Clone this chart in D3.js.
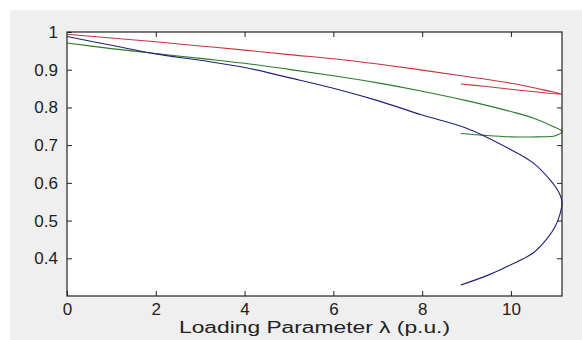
<!DOCTYPE html>
<html>
<head>
<meta charset="utf-8">
<script src="https://cdn.jsdelivr.net/npm/d3@7/dist/d3.min.js"></script>
<style>
  body { margin: 0; background: #fff; }
  svg { display: block; }
  text { font-family: "Liberation Sans", Arial, sans-serif; }
</style>
</head>
<body>
<svg width="582" height="340"></svg>
<script>
// traced P-V curves: [lambda, V]
var redCurve = [[0, 0.994], [1, 0.984], [2, 0.974], [3, 0.963], [4, 0.952], [5, 0.940], [6, 0.929],
  [7, 0.915], [8, 0.899], [9, 0.882], [10, 0.864], [10.6, 0.850], [11.15, 0.835],
  [10.6, 0.841], [10, 0.848], [9.4, 0.856], [8.87, 0.862]];
var greenCurve = [[0, 0.971], [1, 0.956], [2, 0.943], [3, 0.930], [4, 0.917], [5, 0.901], [6, 0.884],
  [7, 0.865], [8, 0.843], [9, 0.818], [10, 0.789], [10.5, 0.772], [10.9, 0.752], [11.15, 0.736],
  [11, 0.725], [10.6, 0.722], [10, 0.722], [9.4, 0.726], [8.87, 0.731]];
var blueCurve = [[0, 0.988], [1, 0.965], [2, 0.942], [3, 0.925], [4, 0.906], [5, 0.879], [6, 0.851],
  [7, 0.818], [8, 0.780], [9, 0.745], [10, 0.688], [10.5, 0.653], [10.9, 0.605], [11.1, 0.570],
  [11.15, 0.548], [11.1, 0.515], [11.0, 0.485], [10.8, 0.450], [10.5, 0.414], [10, 0.383],
  [9.5, 0.356], [8.87, 0.329]];
var xTicks = [0, 2, 4, 6, 8, 10];
var yTicks = [0.4, 0.5, 0.6, 0.7, 0.8, 0.9, 1];

var svg = d3.select("svg");
var plotL = 67, plotR = 562, plotT = 32, plotB = 296;

svg.append("rect").attr("x", 10).attr("y", 10).attr("width", 572).attr("height", 330)
    .attr("fill", "#efefef");

var x = d3.scaleLinear().domain([0, 11.15]).range([plotL, plotR]);
var y = d3.scaleLinear().domain([0.3, 1]).range([plotB, plotT]);

svg.append("rect").attr("x", plotL).attr("y", plotT)
    .attr("width", plotR - plotL).attr("height", plotB - plotT)
    .attr("fill", "#fff");

function styleAxis(g) {
  g.select(".domain").remove();
  g.selectAll("line").attr("stroke", "#222");
  g.selectAll("text").attr("fill", "#222").style("font-size", "17px")
      .style("font-family", "'Liberation Sans', Arial, sans-serif");
}

svg.append("g").attr("transform", "translate(0," + plotB + ")")
    .call(d3.axisBottom(x).tickValues(xTicks).tickSize(-5).tickPadding(7).tickFormat(d3.format("d")))
    .call(styleAxis);
svg.append("g").attr("transform", "translate(0," + plotT + ")")
    .call(d3.axisTop(x).tickValues(xTicks.slice(1)).tickSize(-5).tickFormat(""))
    .call(styleAxis);
svg.append("g").attr("transform", "translate(" + plotL + ",0)")
    .call(d3.axisLeft(y).tickValues(yTicks).tickSize(-5).tickPadding(9).tickFormat(function(d) { return d === 1 ? "1" : d3.format(".1f")(d); }))
    .call(styleAxis);
svg.append("g").attr("transform", "translate(" + plotR + ",0)")
    .call(d3.axisRight(y).tickValues(yTicks.slice(0, -1)).tickSize(-5).tickFormat(""))
    .call(styleAxis);

var line = d3.line()
    .x(function(d) { return x(d[0]); })
    .y(function(d) { return y(d[1]); })
    .curve(d3.curveCatmullRom.alpha(0.5));

var series = [
  { data: redCurve, color: "#c8323f" },
  { data: greenCurve, color: "#2a7a2a" },
  { data: blueCurve, color: "#20207a" }
];
svg.selectAll("path.curve").data(series).enter().append("path")
    .attr("class", "curve")
    .attr("d", function(d) { return line(d.data); })
    .attr("fill", "none")
    .attr("stroke", function(d) { return d.color; })
    .attr("stroke-width", 1.1);

svg.append("rect").attr("x", plotL).attr("y", plotT)
    .attr("width", plotR - plotL).attr("height", plotB - plotT)
    .attr("fill", "none").attr("stroke", "#222").attr("stroke-width", 1.2);

svg.append("text").attr("x", (plotL + plotR) / 2).attr("y", 333)
    .attr("text-anchor", "middle").attr("fill", "#222")
    .attr("textLength", 271).attr("lengthAdjust", "spacingAndGlyphs")
    .style("font-size", "16px")
    .text("Loading Parameter λ (p.u.)");
</script>
</body>
</html>
